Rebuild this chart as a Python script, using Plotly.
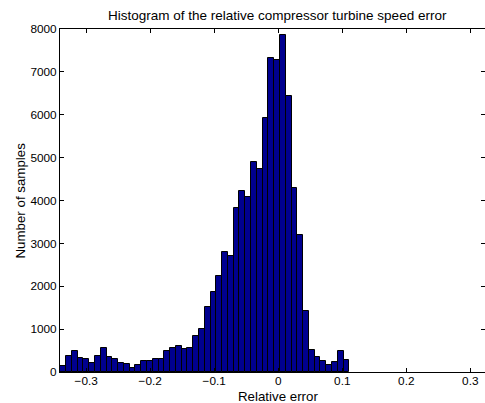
import plotly.graph_objects as go

# Histogram data (bin counts, left to right)
bin_start = -0.3405
bin_width = 0.00903
counts = [130, 370, 500, 315, 308, 215, 377, 570, 340, 292,
          200, 192, 100, 154, 246, 246, 292, 292, 500, 570,
          608, 546, 570, 846, 1005, 1520, 1860, 2228, 2790, 2705,
          3820, 4215, 4080, 4896, 4743, 5928, 7321, 7268, 7861, 6436,
          4292, 3203, 1425, 508, 339, 263, 171, 224, 494, 270]
x_ticks = [-0.3, -0.2, -0.1, 0, 0.1, 0.2, 0.3]
x_ticktext = ["\u22120.3", "\u22120.2", "\u22120.1", "0", "0.1", "0.2", "0.3"]
y_ticks = [0, 1000, 2000, 3000, 4000, 5000, 6000, 7000, 8000]

centers = [bin_start + bin_width * (i + 0.5) for i in range(len(counts))]

FONT = "Liberation Sans, Arial, Helvetica, sans-serif"
W, H = 485, 403
L, R, T, B = 59.5, 0, 29, 30.5

fig = go.Figure(go.Bar(
    x=centers, y=counts, width=bin_width,
    marker=dict(color="#00008F", line=dict(color="black", width=1)),
))

axis_common = dict(showline=True, linecolor="black", linewidth=1, mirror="ticks",
                   ticks="inside", ticklen=4, tickcolor="black", showgrid=False,
                   zeroline=False, tickfont=dict(family=FONT, size=11.8, color="black"))

fig.update_layout(
    width=W, height=H,
    margin=dict(l=L, r=R, t=T, b=B),
    paper_bgcolor="white", plot_bgcolor="white",
    showlegend=False,
    bargap=0,
    xaxis=dict(range=[-0.341, 0.323], tickvals=x_ticks, ticktext=x_ticktext,
               ticklabelstandoff=-2, **axis_common),
    yaxis=dict(range=[0, 8000], tickvals=y_ticks, tickformat="d", **axis_common),
    annotations=[
        dict(text="Histogram of the relative compressor turbine speed error",
             xref="paper", yref="paper", x=(277.5 - L) / (W - L - R), y=1,
             yshift=14, xanchor="center", yanchor="middle", showarrow=False,
             font=dict(family=FONT, size=13.5, color="black")),
        dict(text="Relative error", xref="paper", yref="paper",
             x=(277.5 - L) / (W - L - R), y=0, yshift=-24, xanchor="center",
             yanchor="middle", showarrow=False,
             font=dict(family=FONT, size=13.3, color="black")),
        dict(text="Number of samples", xref="paper", yref="paper",
             x=0, xshift=-40, y=0.5, textangle=-90, xanchor="center",
             yanchor="middle", showarrow=False,
             font=dict(family=FONT, size=13.3, color="black")),
    ],
)

fig.write_html("out.html")
